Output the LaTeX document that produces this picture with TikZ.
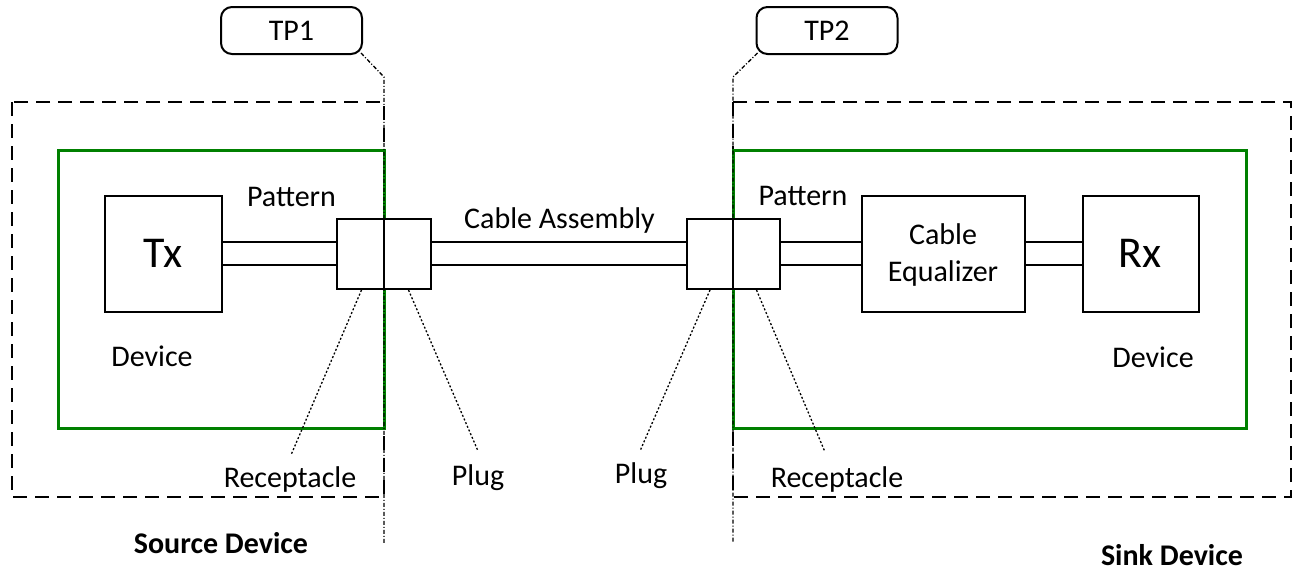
\documentclass[tikz,border=0pt]{standalone}
\usepackage{fontspec}
\setmainfont{Carlito}
\definecolor{devgreen}{RGB}{0,128,0}
\begin{document}
\begin{tikzpicture}[x=1pt,y=-1pt,
  blk/.style={draw=black, line width=2pt, inner sep=0pt, fill=white},
  grnbox/.style={draw=devgreen, line width=3pt},
  dashbox/.style={draw=black, line width=1.5pt, dash pattern=on 14pt off 8pt},
  wire/.style={draw=black, line width=1.5pt},
  dotln/.style={draw=black, line width=1.3pt, dash pattern=on 2pt off 2pt},
  tpln/.style={draw=black, line width=1.3pt, dash pattern=on 4pt off 2pt on 1pt off 2pt},
  tpbox/.style={draw=black, line width=2pt, rounded corners=11pt, inner sep=0pt, minimum width=141pt, minimum height=47pt, font=\fontsize{30}{36}\selectfont},
  lbl/.style={inner sep=0pt, anchor=base, font=\fontsize{30}{36}\selectfont},
  big/.style={inner sep=0pt, anchor=base, font=\fontsize{44}{50}\selectfont},
  bld/.style={inner sep=0pt, anchor=base, font=\fontsize{30}{36}\selectfont\bfseries}
]
\useasboundingbox (0,0) rectangle (1295,571);

% dashed device outlines
\draw[dashbox] (12,102) rectangle (384,497);
\draw[dashbox] (733,102) rectangle (1291,497);

% green device boxes
\draw[grnbox] (58,150) rectangle (384,428);
\draw[grnbox] (733,150) rectangle (1246,428);

% blocks
\node[blk, minimum width=117pt, minimum height=116pt] (tx) at (163.5,254) {};
\node[blk, minimum width=163pt, minimum height=116pt] (ceq) at (943.5,254) {};
\node[blk, minimum width=116pt, minimum height=116pt] (rx) at (1141,254) {};

% connectors (receptacle | plug)
\node[blk, minimum width=47pt, minimum height=70pt] (lrec) at (360.5,254) {};
\node[blk, minimum width=47pt, minimum height=70pt] (lplug) at (407.5,254) {};
\node[blk, minimum width=46pt, minimum height=70pt] (rplug) at (710,254) {};
\node[blk, minimum width=47pt, minimum height=70pt] (rrec) at (756.5,254) {};

% wires
\foreach \yy in {242,265} {
  \draw[wire] (tx.east |- 0,\yy) -- (lrec.west |- 0,\yy);
  \draw[wire] (lplug.east |- 0,\yy) -- (rplug.west |- 0,\yy);
  \draw[wire] (rrec.east |- 0,\yy) -- (ceq.west |- 0,\yy);
  \draw[wire] (ceq.east |- 0,\yy) -- (rx.west |- 0,\yy);
}

% texts in blocks
\node[big] (txt) at (163,267) {Tx};
\node[big] (rxt) at (1140,267) {Rx};
\node[lbl] (ceq1) at (943,244) {Cable};
\node[lbl] (ceq2) at (943,281) {Equalizer};

% labels
\node[lbl] (patL) at (291.5,206) {Pattern};
\node[lbl] (patR) at (803,205) {Pattern};
\node[lbl] (cab) at (559.5,228) {Cable Assembly};
\node[lbl] (devL) at (152,366) {Device};
\node[lbl] (devR) at (1153,367) {Device};
\node[lbl] (recL) at (290,487) {Receptacle};
\node[lbl] (plugL) at (478,485) {Plug};
\node[lbl] (plugR) at (641,483) {Plug};
\node[lbl] (recR) at (837,487) {Receptacle};
\node[bld] (src) at (221,553) {Source Device};
\node[bld] (snk) at (1172,565) {Sink Device};

% pointer lines
\coordinate (recLend) at (291,455);
\coordinate (plugLend) at (478,451);
\coordinate (plugRend) at (640,451);
\coordinate (recRend) at (825,452);
\draw[dotln] ([xshift=1pt]lrec.south) -- (recLend);
\draw[dotln] ([xshift=1pt]lplug.south) -- (plugLend);
\draw[dotln] (rplug.south) -- (plugRend);
\draw[dotln] (rrec.south) -- (recRend);

% test points
\node[tpbox] (tp1) at (291.5,30.5) {TP1};
\node[tpbox] (tp2) at (827,30.5) {TP2};
\coordinate (tp1bend) at (384,77);
\coordinate (tp1end) at (384,543);
\coordinate (tp2bend) at (733,77);
\coordinate (tp2end) at (733,543);
\draw[tpln] ([shift={(-2,-2)}]tp1.south east) -- (tp1bend) -- (tp1end);
\draw[tpln] ([shift={(2,-2)}]tp2.south west) -- (tp2bend) -- (tp2end);
\end{tikzpicture}
\end{document}
